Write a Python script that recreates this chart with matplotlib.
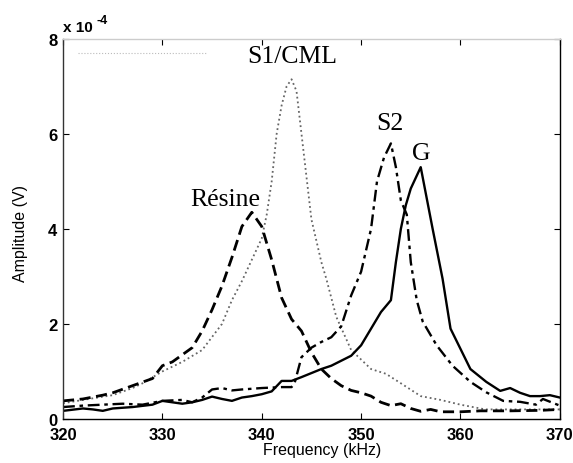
import matplotlib
matplotlib.use("Agg")
import matplotlib.pyplot as plt

# amplitudes en unités de 1e-4 V
freq_resine = [320, 322, 324, 325, 327, 329, 330, 331, 332, 333, 334, 335, 336, 337, 338, 339, 340, 341, 342, 343,
               344, 345, 346, 347, 348, 349, 350, 351, 352, 353, 354, 355, 356, 357, 358, 360, 362, 365, 368, 370]
amp_resine = [0.38, 0.42, 0.5, 0.55, 0.7, 0.85, 1.12, 1.2, 1.35, 1.5, 1.85, 2.3, 2.8, 3.4, 4.05, 4.35, 4.05, 3.35, 2.55, 2.1,
              1.85, 1.4, 1.05, 0.85, 0.7, 0.6, 0.55, 0.48, 0.35, 0.28, 0.32, 0.22, 0.16, 0.2, 0.15, 0.15, 0.17, 0.17, 0.18, 0.2]

freq_s1 = [320, 322, 325, 327, 328, 330, 332, 334, 336, 337, 338, 339, 340, 340.5, 341, 341.5, 342, 342.5, 343, 343.5,
           344, 345, 346, 346.5, 347.5, 349, 351, 352.5, 354, 356, 358, 359, 360, 362.5, 365, 370]
amp_s1 = [0.33, 0.4, 0.5, 0.65, 0.75, 1.0, 1.2, 1.45, 2.0, 2.5, 2.9, 3.35, 3.8, 4.3, 5.0, 6.0, 6.6, 7.0, 7.15, 6.9,
          6.0, 4.2, 3.3, 2.95, 2.15, 1.45, 1.05, 0.95, 0.75, 0.48, 0.4, 0.35, 0.3, 0.2, 0.2, 0.2]

freq_s2 = [320, 322, 324, 326, 328, 330, 332, 333, 334, 335, 336, 337, 338, 340, 342, 343, 343.3, 344, 345, 346, 347,
           348, 349, 350, 351, 351.6, 352.3, 353, 353.5, 354, 354.6, 355, 355.6, 356.2, 357.6, 359.2, 361, 362.6,
           364.3, 366, 367.6, 368.3, 370]
amp_s2 = [0.25, 0.28, 0.3, 0.32, 0.3, 0.38, 0.4, 0.35, 0.45, 0.62, 0.65, 0.6, 0.62, 0.65, 0.67, 0.67, 0.75, 1.3, 1.5,
          1.62, 1.72, 1.95, 2.6, 3.1, 4.0, 5.0, 5.5, 5.8, 5.3, 4.6, 4.3, 3.3, 2.5, 2.05, 1.55, 1.12, 0.78, 0.56,
          0.38, 0.36, 0.3, 0.42, 0.28]

freq_g = [320, 322, 323, 324, 325, 327, 329, 330, 331, 332, 333, 334, 335, 336, 337, 338, 339, 340, 341, 342, 343, 344,
          346, 347, 349, 350, 351, 352, 353, 353.5, 354, 354.5, 355, 356, 357.2, 358.2, 359, 361, 362.6, 364, 365,
          366, 367, 368, 369, 370]
amp_g = [0.17, 0.22, 0.2, 0.17, 0.22, 0.25, 0.3, 0.38, 0.35, 0.32, 0.35, 0.4, 0.47, 0.42, 0.38, 0.45, 0.48, 0.52, 0.58,
         0.8, 0.8, 0.88, 1.05, 1.12, 1.33, 1.55, 1.9, 2.25, 2.5, 3.3, 4.0, 4.5, 4.85, 5.3, 4.0, 2.95, 1.9, 1.05, 0.78,
         0.59, 0.65, 0.55, 0.48, 0.48, 0.5, 0.45]

x_ticks = [320, 330, 340, 350, 360, 370]
y_ticks = [0, 2, 4, 6, 8]

plt.rcParams['font.family'] = ['Liberation Sans', 'DejaVu Sans']

fig = plt.figure(figsize=(5.73, 4.64), dpi=100)
ax = fig.add_axes([0.110, 0.095, 0.867, 0.819])

ax.plot(freq_s1, amp_s1, color='#666666', linestyle=':', linewidth=1.3)
ax.plot(freq_resine, amp_resine, color='black', linestyle=(0, (4, 2)), linewidth=2.0)
ax.plot(freq_s2, amp_s2, color='black', linestyle=(0, (5, 2, 1.5, 2)), linewidth=1.7)
ax.plot(freq_g, amp_g, color='black', linestyle='-', linewidth=1.7)

# reste de légende gris clair en haut à gauche
ax.plot([0.03, 0.29], [0.963, 0.963], transform=ax.transAxes, color='#bbbbbb', linewidth=0.8, linestyle=':')

serif = dict(family=['Liberation Serif', 'DejaVu Serif'], fontsize=18.5, ha='center', va='center')
ax.text(343.1, 7.64, 'S1/CML', **serif)
ax.text(352.9, 6.23, 'S2', **serif)
ax.text(356.1, 5.6, 'G', **serif)
ax.text(336.3, 4.63, 'Résine', **serif)

ax.set_xlim(320, 370)
ax.set_ylim(0, 8)
ax.set_xticks(x_ticks)
ax.set_yticks(y_ticks)
ax.tick_params(direction='in', length=4, top=True, right=True, labelsize=12)
ax.tick_params(axis='x', pad=5.5)
ax.tick_params(axis='y', pad=4)
for lab in ax.get_xticklabels() + ax.get_yticklabels():
    lab.set_fontweight('bold')

ax.spines['top'].set_color('#cccccc')
ax.spines['left'].set_color('#333333')
for s in ax.spines.values():
    s.set_linewidth(1.0)

ax.set_xlabel('Frequency (kHz)', fontsize=11.5)
ax.set_ylabel('Amplitude (V)', fontsize=11.5)
ax.xaxis.set_label_coords(0.521, -0.06)
ax.yaxis.set_label_coords(-0.071, 0.49)

ax.text(0.0, 1.012, 'x 10', transform=ax.transAxes, fontsize=11, fontweight='bold', ha='left', va='bottom')
ax.text(0.068, 1.035, '-4', transform=ax.transAxes, fontsize=9, fontweight='bold', ha='left', va='bottom')

fig.savefig('out.png', dpi=100)
